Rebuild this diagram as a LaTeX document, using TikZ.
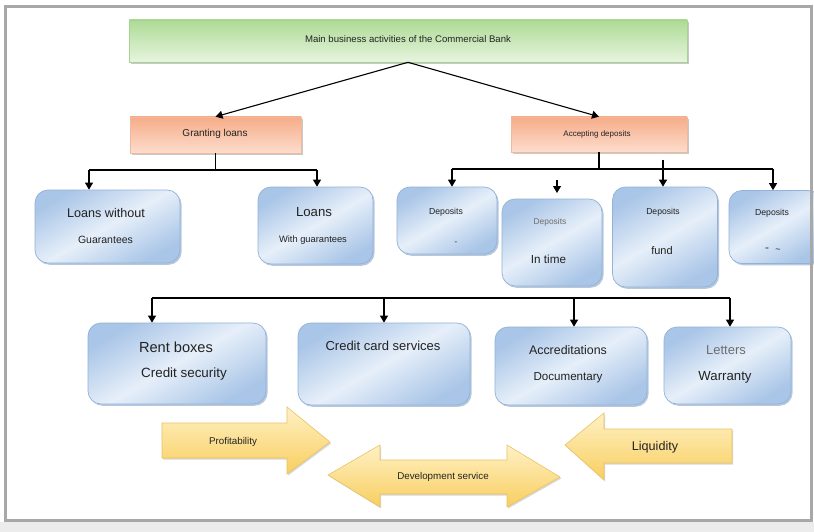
\documentclass[tikz,border=0pt]{standalone}
\usepackage{fontspec}
\setmainfont{Liberation Sans}
\usetikzlibrary{shadows,arrows.meta}
\definecolor{framegray}{HTML}{A8A8A8}
\definecolor{bottomgray}{HTML}{ECECEC}
\definecolor{blueL}{HTML}{E6EFF9}
\definecolor{blueM}{HTML}{C9DBF0}
\definecolor{blueD}{HTML}{A9C5E7}
\definecolor{blueEdge}{HTML}{93B2D8}
\definecolor{blueShadow}{HTML}{7C9BC2}
\definecolor{orgD}{HTML}{F6AC88}
\definecolor{orgL}{HTML}{FCDDCD}
\definecolor{orgEdge}{HTML}{EFB99E}
\definecolor{grnD}{HTML}{ADDB95}
\definecolor{grnL}{HTML}{E7F4DF}
\definecolor{grnEdge}{HTML}{A9D193}
\definecolor{yelD}{HTML}{F8CE5E}
\definecolor{yelL}{HTML}{FFF1C6}
\definecolor{yelEdge}{HTML}{EAC262}
\definecolor{txtdark}{HTML}{222222}
\definecolor{txtgray}{HTML}{6E6E6E}
\newcommand\fsz[1]{\fontsize{#1}{#1}\selectfont}
\begin{document}
\begin{tikzpicture}[x=1pt,y=-1pt,
  bluebox/.style={draw=blueEdge, line width=0.7pt, rounded corners=13pt,
    left color=blueD, right color=blueD, middle color=blueL, shading angle=30,
    inner sep=0pt,
    drop shadow={shadow xshift=1.6pt, shadow yshift=-1.8pt, fill=blueShadow, opacity=0.55}},
  orgbox/.style={draw=orgEdge, line width=0.6pt, top color=orgD, bottom color=orgL,
    inner sep=0pt,
    drop shadow={shadow xshift=1.5pt, shadow yshift=-1.8pt, fill=black!35, opacity=0.6}},
  grnbox/.style={draw=grnEdge, line width=0.6pt, top color=grnD, bottom color=grnL,
    inner sep=0pt,
    drop shadow={shadow xshift=1.5pt, shadow yshift=-1.8pt, fill=black!35, opacity=0.6}},
  yelarrow/.style={draw=yelEdge, line width=0.6pt, top color=yelL, bottom color=yelD,
    drop shadow={shadow xshift=1.2pt, shadow yshift=-1.5pt, fill=black!30, opacity=0.5}},
  txt/.style={inner sep=0pt, text=txtdark},
  conn/.style={line width=1.1pt, draw=black},
  arr/.style={conn, -{Triangle[length=7pt,width=8pt]}}
]
\useasboundingbox (0,0) rectangle (814,532);
\fill[white] (0,0) rectangle (814,532);
\fill[bottomgray] (0,521.5) rectangle (814,532);

% top level
\node[grnbox, minimum width=558pt, minimum height=42pt] (top) at (408,41) {};
\node[txt, font=\fsz{9.6}] (ttop) at (408,39) {Main business activities of the Commercial Bank};

\node[orgbox, minimum width=171pt, minimum height=36pt] (gl) at (215.5,135) {};
\node[txt, font=\fsz{10}] (tgl) at (215,134) {Granting loans};
\node[orgbox, minimum width=176pt, minimum height=35pt] (ad) at (599,134.5) {};
\node[txt, font=\fsz{8}] (tad) at (597,134) {Accepting deposits};

\draw[arr] (top.south) -- (gl.north);
\draw[arr] (top.south) -- (ad.north);

% row 1 boxes
\node[bluebox, minimum width=145pt, minimum height=73pt] (lwg) at (107.5,226.5) {};
\node[txt, font=\fsz{12.6}] (tlwg1) at (106,213) {Loans without};
\node[txt, font=\fsz{10.5}] (tlwg2) at (105.5,240) {Guarantees};

\node[bluebox, minimum width=115pt, minimum height=77pt] (lw) at (315.5,225.5) {};
\node[txt, font=\fsz{13.2}] (tlw1) at (314,212) {Loans};
\node[txt, font=\fsz{9.3}] (tlw2) at (313,240) {With guarantees};

\node[bluebox, minimum width=100pt, minimum height=67pt] (d1) at (447,220.5) {};
\node[txt, font=\fsz{8.7}] (td1a) at (446,212) {Deposits};
\node[txt, font=\fsz{8}] (td1b) at (456,243) {-};

\node[bluebox, minimum width=100pt, minimum height=87pt] (d2) at (552,242.5) {};
\node[txt, font=\fsz{8.4}, text=txtgray] (td2a) at (550,222) {Deposits};
\node[txt, font=\fsz{11.7}] (td2b) at (548.5,259) {In time};

\node[bluebox, minimum width=105pt, minimum height=100pt] (d3) at (665,237) {};
\node[txt, font=\fsz{8.6}] (td3a) at (663,212) {Deposits};
\node[txt, font=\fsz{11}] (td3b) at (662,251) {fund};

\node[bluebox, minimum width=92pt, minimum height=73pt] (d4) at (775,227) {};
\node[txt, font=\fsz{8.7}] (td4a) at (772,213) {Deposits};
\node[txt, font=\fsz{6}] (td4b) at (767,249) {=};
\node[txt, font=\fsz{9}] (td4c) at (778,251) {\char"007E};

% bus under Granting loans
\coordinate (b1) at (215.5,170);
\coordinate (b1l) at (89,170);
\coordinate (b1r) at (317,170);
\draw[conn] (gl.south) -- (b1);
\draw[conn] (b1l) -- (b1r);
\draw[arr] (b1l) -- (b1l |- lwg.north);
\draw[arr] (b1r) -- (b1r |- lw.north);

% bus under Accepting deposits
\coordinate (b2) at (599,169);
\coordinate (b2l) at (452,169);
\coordinate (b2r) at (773,169);
\coordinate (b2a) at (557,180);
\coordinate (b2ae) at (557,193);
\coordinate (b2b) at (663,160);
\draw[conn] (ad.south) -- (b2);
\draw[conn] (b2l) -- (b2r);
\draw[arr] (b2l) -- (b2l |- d1.north);
\draw[arr] (b2a) -- (b2ae);
\draw[arr] (b2b) -- (b2b |- d3.north);
\draw[arr] (b2r) -- (b2r |- d4.north);

% row 2 boxes
\node[bluebox, minimum width=178pt, minimum height=81pt] (rb) at (177,363.5) {};
\node[txt, font=\fsz{14.6}] (trb1) at (176,347) {Rent boxes};
\node[txt, font=\fsz{13.4}] (trb2) at (184,374) {Credit security};

\node[bluebox, minimum width=172pt, minimum height=82pt] (cc) at (384,364) {};
\node[txt, font=\fsz{13}] (tcc) at (383,346) {Credit card services};

\node[bluebox, minimum width=152pt, minimum height=78pt] (ac) at (571,366) {};
\node[txt, font=\fsz{12.4}] (tac1) at (568,350) {Accreditations};
\node[txt, font=\fsz{11.6}] (tac2) at (568,378) {Documentary};

\node[bluebox, minimum width=127pt, minimum height=77pt] (lt) at (727.5,365.5) {};
\node[txt, font=\fsz{13}, text=txtgray] (tlt1) at (726,350) {Letters};
\node[txt, font=\fsz{13.2}] (tlt2) at (725,377) {Warranty};

% bus above row 2
\coordinate (b3l) at (152,298);
\coordinate (b3a) at (384,298);
\coordinate (b3b) at (574,298);
\coordinate (b3r) at (730,298);
\draw[conn] (b3l) -- (b3r);
\draw[arr] (b3l) -- (b3l |- rb.north);
\draw[arr] (b3a) -- (b3a |- cc.north);
\draw[arr] (b3b) -- (b3b |- ac.north);
\draw[arr] (b3r) -- (b3r |- lt.north);

% block arrows
\path[yelarrow] (162,423) -- (287,423) -- (287,407) -- (330,442) -- (287,474) -- (287,458) -- (162,458) -- cycle;
\node[txt, font=\fsz{9.8}] (tprof) at (233,442) {Profitability};

\path[yelarrow] (328,475) -- (380,445) -- (380,460) -- (507,460) -- (507,445) -- (560,477) -- (507,507) -- (507,494) -- (380,494) -- (380,507) -- cycle;
\node[txt, font=\fsz{9.8}] (tdev) at (443,477) {Development service};

\path[yelarrow] (565,445) -- (604,413) -- (604,429) -- (732,429) -- (732,463) -- (604,463) -- (604,480) -- cycle;
\node[txt, font=\fsz{12.6}] (tliq) at (655,447) {Liquidity};

% frame
\draw[framegray, line width=3pt] (5,7) rectangle (811.5,520);
\end{tikzpicture}
\end{document}
